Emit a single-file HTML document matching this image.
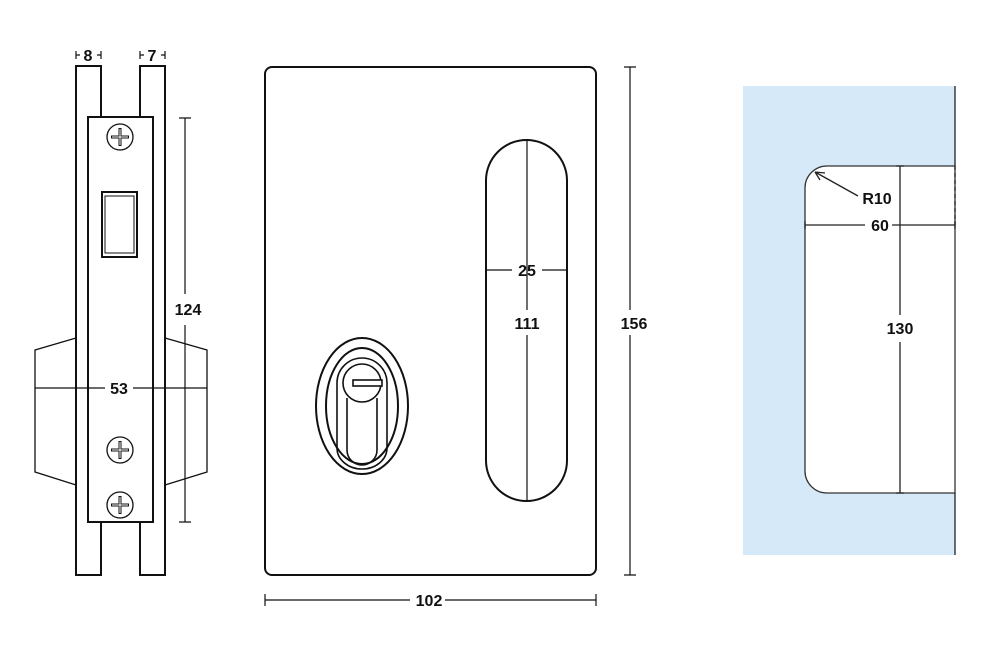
<!DOCTYPE html>
<html><head><style>
html,body{margin:0;padding:0;background:#fff;}
svg{display:block;}
text{font-family:"Liberation Sans",sans-serif;font-weight:bold;font-size:16px;fill:#111;text-anchor:middle;}
</style></head><body>
<svg width="1000" height="650" viewBox="0 0 1000 650" xmlns="http://www.w3.org/2000/svg">
<g fill="#fff" stroke="#111" stroke-width="2">
  <polygon points="76,338 35,350 35,472 76,485" stroke-width="1.3"/>
  <polygon points="165,338 207,350 207,472 165,485" stroke-width="1.3"/>
  <rect x="76" y="66" width="25" height="509"/>
  <rect x="140" y="66" width="25" height="509"/>
  <rect x="88" y="117" width="65" height="405"/>
  <rect x="102" y="192" width="35" height="65"/>
  <rect x="105" y="196" width="29" height="57" stroke-width="1"/>
</g>
<g fill="#fff" stroke="#111" stroke-width="1.3">
  <circle cx="120" cy="137" r="13"/><circle cx="120" cy="450" r="13"/><circle cx="120" cy="505" r="13"/>
</g>
<g stroke="#111" stroke-width="3">
  <path d="M111,137h18M120,128v18M111,450h18M120,441v18M111,505h18M120,496v18"/>
</g>
<g stroke="#fff" stroke-width="1">
  <path d="M112,137h16M120,129v16M112,450h16M120,442v16M112,505h16M120,497v16"/>
</g>
<g stroke="#111" stroke-width="1.2" fill="none">
  <path d="M35,388H105M133,388H207"/>
  <path d="M185,118V294M185,325V522M179,118h12M179,522h12"/>
  <path d="M76,51v8M80,55h-4M101,51v8M97,55h4M140,51v8M144,55h-4M165,51v8M161,55h4"/>
</g>
<text x="119" y="394">53</text>
<text x="188" y="315">124</text>
<text x="88" y="61">8</text>
<text x="152" y="61">7</text>
<g fill="none" stroke="#111" stroke-width="2">
  <rect x="265" y="67" width="331" height="508" rx="7"/>
  <rect x="486" y="140" width="81" height="361" rx="40.5"/>
  <ellipse cx="362" cy="406" rx="46" ry="68"/>
  <ellipse cx="362" cy="406" rx="36" ry="58"/>
  <path d="M337,383 A25,25 0 1 1 387,383 V448 A25,21 0 0 1 337,448 Z" stroke-width="1.6"/>
  <path d="M347,398 V450 A15,15 0 0 0 377,450 V398" stroke-width="1.6"/>
  <circle cx="362" cy="383" r="19" fill="#fff" stroke-width="1.6"/>
  <rect x="353" y="380" width="29" height="6" fill="#fff" stroke-width="1.6"/>
</g>
<g stroke="#111" stroke-width="1.2" fill="none">
  <path d="M527,140V310M527,335V501M486,270H512M542,270H567"/>
  <path d="M630,67V310M630,335V575M624,67h12M624,575h12"/>
  <path d="M265,600H410M445,600H596M265,594v12M596,594v12"/>
</g>
<text x="527" y="276">25</text>
<text x="527" y="329">111</text>
<text x="634" y="329">156</text>
<text x="429" y="606">102</text>
<rect x="743" y="86" width="212" height="469" fill="#d5e9f8"/>
<path d="M955,166H827A22,22 0 0 0 805,188V471A22,22 0 0 0 827,493H955Z" fill="#fff" stroke="#333" stroke-width="1.3"/>
<g stroke="#222" stroke-width="1.3" fill="none">
  <path d="M955,86V166M955,493V555"/>
  <path d="M955,166V225" stroke-dasharray="4,3"/>
  <path d="M805,225H865M892,225H955M955,221v8M805,221v8"/>
  <path d="M900,166V315M900,342V493M896,166h8M896,493h8"/>
  <path d="M858,196L815,172M815,172l10,1M815,172l5,8"/>
</g>
<text x="877" y="204">R10</text>
<text x="880" y="231">60</text>
<text x="900" y="334">130</text>
</svg>
</body></html>
